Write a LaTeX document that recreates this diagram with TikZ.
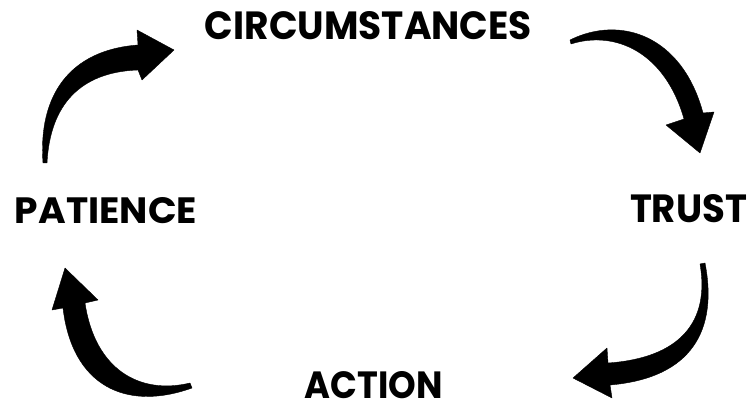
\documentclass[tikz,border=0pt]{standalone}
\usepackage{fontspec}
\newfontfamily\labelfont{Poppins}[BoldFont={* Bold}]
\newcommand\fitlabel[3]{\resizebox{#1pt}{#2pt}{\labelfont\bfseries #3}}
\begin{document}
\begin{tikzpicture}[x=1pt,y=-1pt,
  lbl/.style={inner sep=0pt,outer sep=0pt,anchor=center},
  brush/.style={fill=black,draw=black,line width=0.4pt,line join=round}]
\useasboundingbox[fill=white] (0,0) rectangle (754,411);
% labels
\node[lbl] (circ) at (368.5,25.5) {\fitlabel{327}{28}{CIRCUMSTANCES}};
\node[lbl] (trust) at (688.5,208.5) {\fitlabel{117}{28}{TRUST}};
\node[lbl] (action) at (374,385.5) {\fitlabel{138}{27}{ACTION}};
\node[lbl] (pat) at (106,210.5) {\fitlabel{182}{26}{PATIENCE}};
% arrow: patience -> circumstances
\path[brush] (43,163) .. controls (38,95) and (70,50) .. (138,45)
  -- (137,30) -- (174,50) -- (142,80) -- (138,70)
  .. controls (80,72) and (50,105) .. (47,163) -- cycle;
% arrow: circumstances -> trust
\path[brush] (570,40) .. controls (620,15) and (682,35) .. (703,113)
  -- (714,112) -- (700,153) -- (666,125) -- (684,119)
  .. controls (665,52) and (615,30) .. (571,44) -- cycle;
% arrow: trust -> action
\path[brush] (700,264) .. controls (710,322) and (680,358) .. (608,363)
  -- (607,348) -- (573,378) -- (612,398) -- (610,385)
  .. controls (692,378) and (718,330) .. (705,263) -- cycle;
% arrow: action -> patience
\path[brush] (190,383) .. controls (140,395) and (95,370) .. (85,303)
  -- (98,300) -- (65,268) -- (52,310) -- (63,308)
  .. controls (72,385) and (125,412) .. (192,388) -- cycle;
\end{tikzpicture}
\end{document}
